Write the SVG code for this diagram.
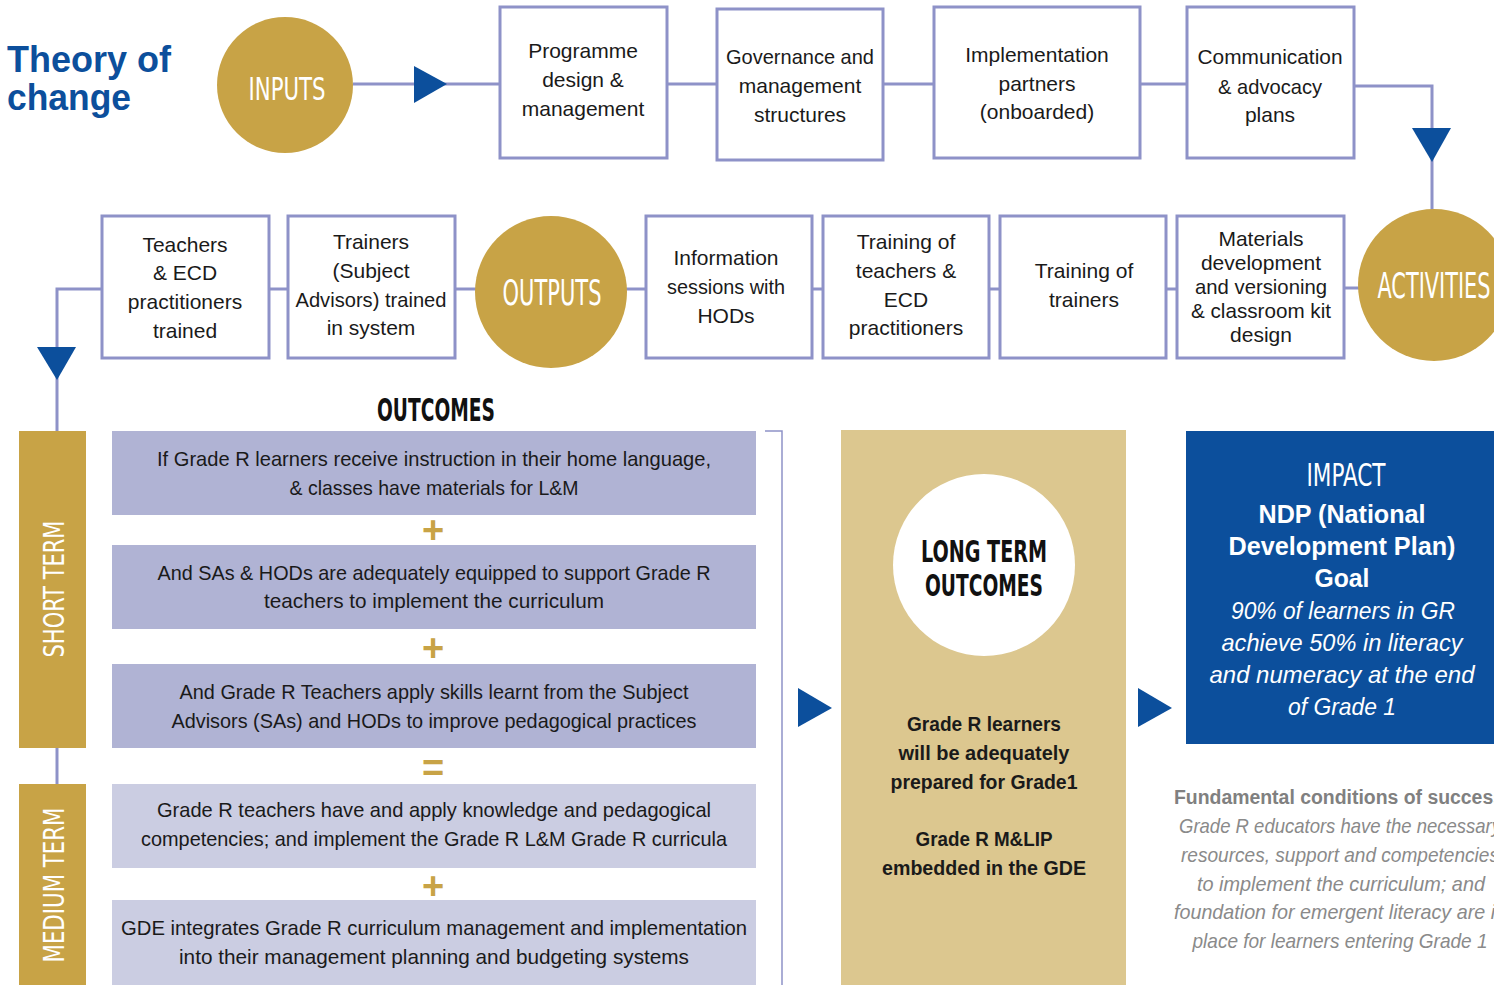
<svg xmlns="http://www.w3.org/2000/svg" width="1494" height="985" viewBox="0 0 1494 985">
<defs>
<style>
.box{fill:#ffffff;stroke:#8e92c8;stroke-width:3}
.ln{fill:none;stroke:#8e92c8;stroke-width:3}
.thin{fill:none;stroke:#8e92c8;stroke-width:1.5}
.gold{fill:#c8a346}
.arr{fill:#0c4f9c}
.bt{font-family:"Liberation Sans",Arial,sans-serif;font-size:21px;fill:#1a1a1a;text-anchor:middle}
.ot{font-family:"Liberation Sans",Arial,sans-serif;font-size:21px;fill:#1a1a1a;text-anchor:middle}
.cond{font-family:"DejaVu Sans Condensed","Liberation Sans",Arial,sans-serif;font-weight:bold;text-anchor:middle}
.ww{fill:#ffffff}
.sym{font-family:"Liberation Sans",Arial,sans-serif;font-weight:bold;font-size:38px;fill:#c8a346;text-anchor:middle}
.lt{font-family:"Liberation Sans",Arial,sans-serif;font-weight:bold;font-size:21px;fill:#1a1a1a;text-anchor:middle}
.imb{font-family:"Liberation Sans",Arial,sans-serif;font-weight:bold;font-size:25px;fill:#ffffff;text-anchor:middle}
.imi{font-family:"Liberation Sans",Arial,sans-serif;font-style:italic;font-size:24px;fill:#ffffff;text-anchor:middle}
.fb{font-family:"Liberation Sans",Arial,sans-serif;font-weight:bold;font-size:20px;fill:#808080}
.fi{font-family:"Liberation Sans",Arial,sans-serif;font-style:italic;font-size:21px;fill:#8a8a8a;text-anchor:middle}
</style>
</defs>
<rect width="1494" height="985" fill="#ffffff"/>

<g id="title">
<text x="7" y="72" font-family="Liberation Sans,Arial,sans-serif" font-weight="bold" font-size="36" fill="#0c4f9c" textLength="164" lengthAdjust="spacingAndGlyphs">Theory of</text>
<text x="7" y="110" font-family="Liberation Sans,Arial,sans-serif" font-weight="bold" font-size="36" fill="#0c4f9c" textLength="124" lengthAdjust="spacingAndGlyphs">change</text>
</g>

<g id="connectors">
<line class="ln" x1="353" y1="84" x2="500" y2="84"/>
<line class="ln" x1="667" y1="84" x2="717" y2="84"/>
<line class="ln" x1="883" y1="84" x2="934" y2="84"/>
<line class="ln" x1="1140" y1="84" x2="1187" y2="84"/>
<polyline class="ln" points="1354,86 1432,86 1432,212"/>
<line class="ln" x1="1344" y1="288" x2="1360" y2="288"/>
<line class="ln" x1="1166" y1="289" x2="1177" y2="289"/>
<line class="ln" x1="989" y1="289" x2="1000" y2="289"/>
<line class="ln" x1="812" y1="289" x2="823" y2="289"/>
<line class="ln" x1="626" y1="289" x2="646" y2="289"/>
<line class="ln" x1="455" y1="289" x2="476" y2="289"/>
<line class="ln" x1="269" y1="289" x2="288" y2="289"/>
<polyline class="ln" points="102,289 57,289 57,431"/>
<line class="ln" x1="57" y1="748" x2="57" y2="785"/>
<polyline class="thin" points="765,431 782,431 782,985"/>
<polygon class="arr" points="414,66 447,84 414,103"/>
<polygon class="arr" points="1412,128 1451,128 1432,162"/>
<polygon class="arr" points="37,347 76,347 57,380"/>
<polygon class="arr" points="798,688 832,708 798,727"/>
<polygon class="arr" points="1138,688 1172,708 1138,727"/>
</g>

<g id="inputs">
<circle class="gold" cx="285" cy="85" r="68"/>
<text class="cond ww" x="287" y="100" font-size="32" textLength="77" lengthAdjust="spacingAndGlyphs" style="font-weight:normal">INPUTS</text>
</g>

<g id="programme">
<rect class="box" x="500" y="7" width="167" height="151"/>
<text class="bt" x="583" y="58">Programme</text>
<text class="bt" x="583" y="87">design &amp;</text>
<text class="bt" x="583" y="116">management</text>
</g>
<g id="governance">
<rect class="box" x="717" y="9" width="166" height="151"/>
<text class="bt" x="800" y="64" textLength="148" lengthAdjust="spacingAndGlyphs">Governance and</text>
<text class="bt" x="800" y="93">management</text>
<text class="bt" x="800" y="122">structures</text>
</g>
<g id="implementation">
<rect class="box" x="934" y="7" width="206" height="151"/>
<text class="bt" x="1037" y="62">Implementation</text>
<text class="bt" x="1037" y="91">partners</text>
<text class="bt" x="1037" y="119">(onboarded)</text>
</g>
<g id="communication">
<rect class="box" x="1187" y="7" width="167" height="151"/>
<text class="bt" x="1270" y="64" textLength="145" lengthAdjust="spacingAndGlyphs">Communication</text>
<text class="bt" x="1270" y="94" textLength="104" lengthAdjust="spacingAndGlyphs">&amp; advocacy</text>
<text class="bt" x="1270" y="122">plans</text>
</g>

<g id="activities">
<circle class="gold" cx="1434" cy="285" r="76"/>
<text class="cond ww" x="1434" y="298" font-size="36" textLength="113" lengthAdjust="spacingAndGlyphs" style="font-weight:normal">ACTIVITIES</text>
</g>

<g id="materials">
<rect class="box" x="1177" y="216" width="167" height="142"/>
<text class="bt" x="1261" y="246">Materials</text>
<text class="bt" x="1261" y="270">development</text>
<text class="bt" x="1261" y="294" textLength="132" lengthAdjust="spacingAndGlyphs">and versioning</text>
<text class="bt" x="1261" y="318" textLength="140" lengthAdjust="spacingAndGlyphs">&amp; classroom kit</text>
<text class="bt" x="1261" y="342">design</text>
</g>
<g id="training-trainers">
<rect class="box" x="1000" y="216" width="166" height="142"/>
<text class="bt" x="1084" y="278">Training of</text>
<text class="bt" x="1084" y="307">trainers</text>
</g>
<g id="training-teachers">
<rect class="box" x="823" y="216" width="166" height="142"/>
<text class="bt" x="906" y="249">Training of</text>
<text class="bt" x="906" y="278">teachers &amp;</text>
<text class="bt" x="906" y="307">ECD</text>
<text class="bt" x="906" y="335">practitioners</text>
</g>
<g id="information">
<rect class="box" x="646" y="216" width="166" height="142"/>
<text class="bt" x="726" y="265">Information</text>
<text class="bt" x="726" y="294" textLength="118" lengthAdjust="spacingAndGlyphs">sessions with</text>
<text class="bt" x="726" y="323">HODs</text>
</g>

<g id="outputs">
<circle class="gold" cx="551" cy="292" r="76"/>
<text class="cond ww" x="552" y="305" font-size="36" textLength="99" lengthAdjust="spacingAndGlyphs" style="font-weight:normal">OUTPUTS</text>
</g>

<g id="trainers-trained">
<rect class="box" x="288" y="216" width="167" height="142"/>
<text class="bt" x="371" y="249">Trainers</text>
<text class="bt" x="371" y="278">(Subject</text>
<text class="bt" x="371" y="307" textLength="151" lengthAdjust="spacingAndGlyphs">Advisors) trained</text>
<text class="bt" x="371" y="335">in system</text>
</g>
<g id="teachers-trained">
<rect class="box" x="102" y="216" width="167" height="142"/>
<text class="bt" x="185" y="252">Teachers</text>
<text class="bt" x="185" y="280">&amp; ECD</text>
<text class="bt" x="185" y="309">practitioners</text>
<text class="bt" x="185" y="338">trained</text>
</g>

<g id="outcomes-title">
<text class="cond" x="436" y="421" font-size="32" fill="#111111" textLength="118" lengthAdjust="spacingAndGlyphs">OUTCOMES</text>
</g>

<g id="short-term">
<rect class="gold" x="19" y="431" width="67" height="317"/>
<text class="cond ww" transform="translate(64,589) rotate(-90)" x="0" y="0" font-size="29" textLength="137" lengthAdjust="spacingAndGlyphs" style="font-weight:normal">SHORT TERM</text>
</g>
<g id="medium-term">
<rect class="gold" x="19" y="784" width="67" height="201"/>
<text class="cond ww" transform="translate(64,885) rotate(-90)" x="0" y="0" font-size="29" textLength="155" lengthAdjust="spacingAndGlyphs" style="font-weight:normal">MEDIUM TERM</text>
</g>

<g id="outcome-1">
<rect x="112" y="431" width="644" height="84" fill="#b0b3d4"/>
<text class="ot" x="434" y="466" textLength="554" lengthAdjust="spacingAndGlyphs">If Grade R learners receive instruction in their home language,</text>
<text class="ot" x="434" y="495" textLength="289" lengthAdjust="spacingAndGlyphs">&amp; classes have materials for L&amp;M</text>
</g>
<g id="plus-1"><text class="sym" x="433" y="543">+</text></g>
<g id="outcome-2">
<rect x="112" y="545" width="644" height="84" fill="#b0b3d4"/>
<text class="ot" x="434" y="580" textLength="553" lengthAdjust="spacingAndGlyphs">And SAs &amp; HODs are adequately equipped to support Grade R</text>
<text class="ot" x="434" y="608" textLength="340" lengthAdjust="spacingAndGlyphs">teachers to implement the curriculum</text>
</g>
<g id="plus-2"><text class="sym" x="433" y="661">+</text></g>
<g id="outcome-3">
<rect x="112" y="664" width="644" height="84" fill="#b0b3d4"/>
<text class="ot" x="434" y="699" textLength="509" lengthAdjust="spacingAndGlyphs">And Grade R Teachers apply skills learnt from the Subject</text>
<text class="ot" x="434" y="728" textLength="525" lengthAdjust="spacingAndGlyphs">Advisors (SAs) and HODs to improve pedagogical practices</text>
</g>
<g id="equals"><text class="sym" x="433" y="781">=</text></g>
<g id="outcome-4">
<rect x="112" y="784" width="644" height="84" fill="#cbcde2"/>
<text class="ot" x="434" y="817" textLength="554" lengthAdjust="spacingAndGlyphs">Grade R teachers have and apply knowledge and pedagogical</text>
<text class="ot" x="434" y="846" textLength="586" lengthAdjust="spacingAndGlyphs">competencies; and implement the Grade R L&amp;M Grade R curricula</text>
</g>
<g id="plus-3"><text class="sym" x="433" y="899">+</text></g>
<g id="outcome-5">
<rect x="112" y="900" width="644" height="85" fill="#cbcde2"/>
<text class="ot" x="434" y="935" textLength="626" lengthAdjust="spacingAndGlyphs">GDE integrates Grade R curriculum management and implementation</text>
<text class="ot" x="434" y="964" textLength="510" lengthAdjust="spacingAndGlyphs">into their management planning and budgeting systems</text>
</g>

<g id="long-term">
<rect x="841" y="430" width="285" height="555" fill="#dcc78f"/>
<circle cx="984" cy="565" r="91" fill="#ffffff"/>
<text class="cond" x="984" y="562" font-size="30" fill="#111111" textLength="126" lengthAdjust="spacingAndGlyphs">LONG TERM</text>
<text class="cond" x="984" y="596" font-size="30" fill="#111111" textLength="118" lengthAdjust="spacingAndGlyphs">OUTCOMES</text>
<text class="lt" x="984" y="731" textLength="154" lengthAdjust="spacingAndGlyphs">Grade R learners</text>
<text class="lt" x="984" y="760" textLength="171" lengthAdjust="spacingAndGlyphs">will be adequately</text>
<text class="lt" x="984" y="789" textLength="187" lengthAdjust="spacingAndGlyphs">prepared for Grade1</text>
<text class="lt" x="984" y="846" textLength="137" lengthAdjust="spacingAndGlyphs">Grade R M&amp;LIP</text>
<text class="lt" x="984" y="875" textLength="204" lengthAdjust="spacingAndGlyphs">embedded in the GDE</text>
</g>

<g id="impact">
<rect x="1186" y="431" width="320" height="313" fill="#0c4f9c"/>
<text class="cond ww" x="1346" y="486" font-size="32" textLength="79" lengthAdjust="spacingAndGlyphs" style="font-weight:normal">IMPACT</text>
<text class="imb" x="1342" y="523" textLength="167" lengthAdjust="spacingAndGlyphs">NDP (National</text>
<text class="imb" x="1342" y="555" textLength="227" lengthAdjust="spacingAndGlyphs">Development Plan)</text>
<text class="imb" x="1342" y="587" textLength="55" lengthAdjust="spacingAndGlyphs">Goal</text>
<text class="imi" x="1343" y="619" textLength="224" lengthAdjust="spacingAndGlyphs">90% of learners in GR</text>
<text class="imi" x="1342" y="651" textLength="241" lengthAdjust="spacingAndGlyphs">achieve 50% in literacy</text>
<text class="imi" x="1342" y="683" textLength="265" lengthAdjust="spacingAndGlyphs">and numeracy at the end</text>
<text class="imi" x="1342" y="715" textLength="108" lengthAdjust="spacingAndGlyphs">of Grade 1</text>
</g>

<g id="fundamental">
<text class="fb" x="1174" y="804" textLength="330" lengthAdjust="spacingAndGlyphs">Fundamental conditions of success</text>
<text class="fi" x="1340" y="833" textLength="322" lengthAdjust="spacingAndGlyphs">Grade R educators have the necessary</text>
<text class="fi" x="1340" y="862" textLength="318" lengthAdjust="spacingAndGlyphs">resources, support and competencies</text>
<text class="fi" x="1341" y="891" textLength="288" lengthAdjust="spacingAndGlyphs">to implement the curriculum; and</text>
<text class="fi" x="1340" y="919" textLength="332" lengthAdjust="spacingAndGlyphs">foundation for emergent literacy are in</text>
<text class="fi" x="1340" y="948" textLength="295" lengthAdjust="spacingAndGlyphs">place for learners entering Grade 1</text>
</g>
</svg>
